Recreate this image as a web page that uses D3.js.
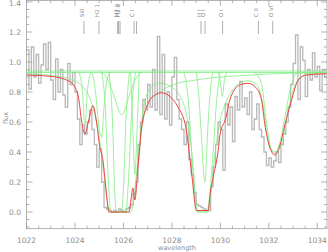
<!DOCTYPE html>
<html><head><meta charset="utf-8">
<script src="https://cdnjs.cloudflare.com/ajax/libs/d3/7.8.5/d3.min.js"></script>
<style>html,body{margin:0;padding:0;background:#fff;}svg{display:block;}</style>
</head><body>
<script>
// ---- data ----
const binStart = 1022.0, binWidth = 0.1;
const fluxData = [
 1.08,0.82,1.10,0.90,1.05,0.86,0.98,1.12,0.95,1.13,
 0.88,0.75,1.02,0.80,0.95,0.78,0.70,0.99,0.85,0.93,
 0.80,0.62,0.45,0.58,0.52,0.60,0.68,0.55,0.45,0.30,
 0.42,0.20,0.03,0.02,0.01,0.00,0.01,0.00,0.02,0.01,
 0.00,0.02,0.03,0.05,0.12,0.20,0.45,0.60,0.75,0.68,
 0.85,0.70,0.95,0.68,1.17,0.65,1.05,0.62,0.80,0.58,
 0.90,1.03,0.75,0.62,0.55,0.45,0.60,0.35,0.25,0.13,
 0.05,0.04,0.03,0.02,0.01,0.01,0.17,0.30,0.45,0.60,
 0.55,0.28,0.72,0.58,0.70,0.47,0.77,0.68,0.87,0.70,
 0.76,0.65,0.80,0.55,0.62,0.72,0.55,0.50,0.40,0.31,
 0.36,0.30,0.34,0.40,0.33,0.45,0.52,0.60,0.70,0.85,
 0.99,1.18,0.75,1.10,1.01,0.77,0.95,0.88,1.06,0.90,
 0.97,0.81,0.95,0.90
];
const modelWave = [1022.0,1022.97,1023.79,1024.0,1024.14,1024.28,1024.41,1024.58,1024.74,1024.87,1025.03,1025.15,1025.28,1025.40,1026.23,1026.31,1026.39,1026.47,1026.60,1026.75,1027.01,1027.30,1027.58,1027.92,1028.25,1028.58,1028.82,1029.02,1029.50,1029.57,1029.70,1029.91,1029.98,1030.23,1030.39,1030.80,1031.15,1031.49,1031.70,1031.83,1032.04,1032.25,1032.45,1032.66,1032.94,1033.21,1033.55,1034.10,1034.4];
const modelFlux = [0.913,0.905,0.87,0.83,0.77,0.60,0.52,0.62,0.71,0.62,0.43,0.35,0.15,0.0,0.0,0.08,0.16,0.08,0.30,0.56,0.72,0.78,0.795,0.77,0.70,0.56,0.25,0.01,0.01,0.11,0.23,0.41,0.51,0.63,0.747,0.847,0.858,0.825,0.747,0.59,0.43,0.38,0.44,0.58,0.747,0.88,0.913,0.92,0.922];

// component profiles: [wavelength list, flux list]
const compContA = [[1022.0,1034.4],[0.94,0.94]];
const compContB = [[1022.0,1034.4],[0.93,0.93]];
const compDamped = [[1022.0,1023.0,1023.8,1024.3,1024.7,1025.0,1025.2,1025.4,1025.5,1026.3,1026.4,1026.6,1026.8,1027.0,1027.5,1028.0,1029.0,1030.0,1031.0,1032.0,1033.0,1034.4],
                    [0.92,0.91,0.885,0.84,0.72,0.5,0.25,0.02,0.0,0.0,0.05,0.35,0.6,0.72,0.8,0.845,0.88,0.9,0.91,0.92,0.925,0.93]];
const compSi = [[1024.15,1024.3,1024.41,1024.52,1024.67],[0.935,0.82,0.58,0.82,0.935]];
const compH2a = [[1024.7,1024.85,1025.0,1025.1,1025.2,1025.35,1025.5],[0.935,0.8,0.55,0.5,0.7,0.9,0.935]];
const compShallow = [[1025.0,1025.3,1025.6,1025.93,1026.25,1026.55,1026.8],[0.935,0.9,0.78,0.647,0.78,0.9,0.935]];
const compSatA = [[1025.1,1025.25,1025.38,1025.48,1026.1,1026.22,1026.35,1026.5],[0.935,0.7,0.2,0.0,0.0,0.25,0.7,0.935]];
const compSatB = [[1025.4,1025.55,1025.65,1025.72,1025.9,1026.0,1026.1,1026.25],[0.935,0.6,0.1,0.0,0.0,0.15,0.6,0.935]];
const compCl = [[1026.3,1026.4,1026.47,1026.55,1026.65],[0.935,0.5,0.25,0.5,0.935]];
const compEnvelope = [[1026.65,1026.75,1026.9,1027.2,1027.5,1027.9,1028.3,1028.6,1028.85,1029.0,1029.1,1029.5,1029.6,1029.75,1029.95,1030.2,1030.45,1030.8,1031.15,1031.5,1031.75,1031.95,1032.25,1032.55,1032.8,1033.1,1033.5,1034.0,1034.4],
                      [0.35,0.6,0.75,0.84,0.86,0.84,0.78,0.65,0.35,0.05,0.0,0.0,0.12,0.35,0.58,0.72,0.8,0.86,0.875,0.85,0.72,0.5,0.39,0.47,0.68,0.85,0.915,0.925,0.93]];
const compHI2 = [[1028.5,1028.7,1028.85,1028.98,1029.05,1029.45,1029.55,1029.7,1029.85,1030.0],[0.935,0.7,0.3,0.02,0.0,0.0,0.1,0.4,0.75,0.935]];
const compOI1 = [[1029.0,1029.1,1029.2,1029.36,1029.48,1029.58,1029.7],[0.935,0.8,0.55,0.2,0.55,0.8,0.935]];
const compOI2 = [[1029.9,1030.0,1030.08,1030.16,1030.26],[0.935,0.87,0.77,0.87,0.935]];
const compOVI = [[1031.4,1031.7,1031.9,1032.1,1032.25,1032.45,1032.65,1032.9,1033.2,1033.4],[0.935,0.85,0.6,0.42,0.40,0.46,0.62,0.83,0.93,0.935]];
const components = [compContA, compContB, compDamped, compSi, compH2a, compShallow, compSatA, compSatB, compCl, compEnvelope, compHI2, compOI1, compOI2, compOVI];

const lineNames = ["SiII","H2 1","H I","H2 2","H2 0","C I","C I","H I","O I","O I","C II","O VI"];
const lineWaves = [1024.37,1024.99,1025.76,1025.80,1025.86,1026.44,1026.54,1029.20,1029.37,1030.09,1031.57,1032.16];
const labelShow = [true,true,true,true,true,true,false,true,true,true,true,true];

const xTicks = [1022,1024,1026,1028,1030,1032,1034];
const yTicks = [0.0,0.2,0.4,0.6,0.8,1.0,1.2,1.4];

// ---- drawing ----
const W = 328, H = 252;
const L = 26.5, R = 327, T = 0, B = 228.7;
const x = d3.scaleLinear().domain([1022, 1034.4]).range([L, R]);
const y = d3.scaleLinear().domain([-0.1113, 1.4133]).range([B, T]);

const svg = d3.select("body").append("svg").attr("width", W).attr("height", H);
const plot = svg.append("g");
svg.append("clipPath").attr("id","c").append("rect").attr("x",L).attr("y",T).attr("width",R-L).attr("height",B-T);
const g = plot.append("g").attr("clip-path","url(#c)");

// gray step data
const stepPts = fluxData.map((v,i)=>[binStart + i*binWidth, v]);
stepPts.push([binStart + fluxData.length*binWidth, fluxData[fluxData.length-1]]);
g.append("path").datum(stepPts)
  .attr("fill","none").attr("stroke","#b8b8b8").attr("stroke-width",1.3)
  .attr("d", d3.line().x(d=>x(d[0])).y(d=>y(d[1])).curve(d3.curveStepAfter));

// green components
const compLine = d3.line().x(d=>x(d[0])).y(d=>y(d[1])).curve(d3.curveMonotoneX);
components.forEach(c=>{
  const pts = c[0].map((w,i)=>[w, c[1][i]]);
  g.append("path").datum(pts).attr("fill","none").attr("stroke","#80ee80").attr("stroke-width",0.8).attr("d", compLine);
});

// red model
g.append("path").datum(modelWave.map((w,i)=>[w, modelFlux[i]]))
  .attr("fill","none").attr("stroke","#ee4040").attr("stroke-width",1.0).attr("d", compLine);

// line ID marks
const axisCol = "#a0a0a0", textCol = "#8c8c8c";
lineWaves.forEach((w,i)=>{
  svg.append("line").attr("x1",x(w)).attr("x2",x(w)).attr("y1",21).attr("y2",34)
    .attr("stroke","#9a9a9a").attr("stroke-width",0.8);
  if (labelShow[i]) {
    svg.append("text").attr("transform",`translate(${x(w)-1.5},17) rotate(-90)`)
      .attr("font-family","DejaVu Sans, sans-serif").attr("font-size",5.5)
      .attr("fill",textCol).attr("text-anchor","start").attr("dominant-baseline","middle")
      .text(lineNames[i]);
  }
});

// axes frame
const ax = svg.append("g").attr("stroke",axisCol).attr("stroke-width",0.8).attr("fill","none");
ax.append("rect").attr("x",L).attr("y",T+0.4).attr("width",R-L).attr("height",B-T-0.4);

// ticks (inward on all four sides)
const xMinor = d3.range(1022, 1034.41, 0.5);
xMinor.forEach(v=>{
  const major = xTicks.includes(Math.round(v*10)/10);
  const len = major ? 6 : 3;
  ax.append("line").attr("x1",x(v)).attr("x2",x(v)).attr("y1",B).attr("y2",B-len);
  ax.append("line").attr("x1",x(v)).attr("x2",x(v)).attr("y1",T).attr("y2",T+len);
});
const yMinor = d3.range(-0.1, 1.4001, 0.05);
yMinor.forEach(v=>{
  const major = yTicks.some(t=>Math.abs(t-v)<1e-6);
  const len = major ? 6 : 3;
  ax.append("line").attr("x1",L).attr("x2",L+len).attr("y1",y(v)).attr("y2",y(v));
  ax.append("line").attr("x1",R).attr("x2",R-len).attr("y1",y(v)).attr("y2",y(v));
});

// tick labels
svg.selectAll(".xl").data(xTicks).enter().append("text")
  .attr("x",d=>x(d)).attr("y",243).attr("text-anchor","middle")
  .attr("font-family","DejaVu Sans, sans-serif").attr("font-size",7.5).attr("fill",textCol)
  .text(d=>d);
svg.selectAll(".yl").data(yTicks).enter().append("text")
  .attr("x",21).attr("y",d=>Math.max(y(d)+2.8, 6)).attr("text-anchor","end")
  .attr("font-family","DejaVu Sans, sans-serif").attr("font-size",7.5).attr("fill",textCol)
  .text(d=>d.toFixed(1));

// axis titles
svg.append("text").attr("x",177).attr("y",249.5).attr("text-anchor","middle")
  .attr("font-family","DejaVu Sans, sans-serif").attr("font-size",6.5).attr("fill",textCol).text("wavelength");
svg.append("text").attr("transform","translate(8,118) rotate(-90)").attr("text-anchor","middle")
  .attr("font-family","DejaVu Sans, sans-serif").attr("font-size",6.5).attr("fill",textCol).text("flux");
</script>
</body></html>
